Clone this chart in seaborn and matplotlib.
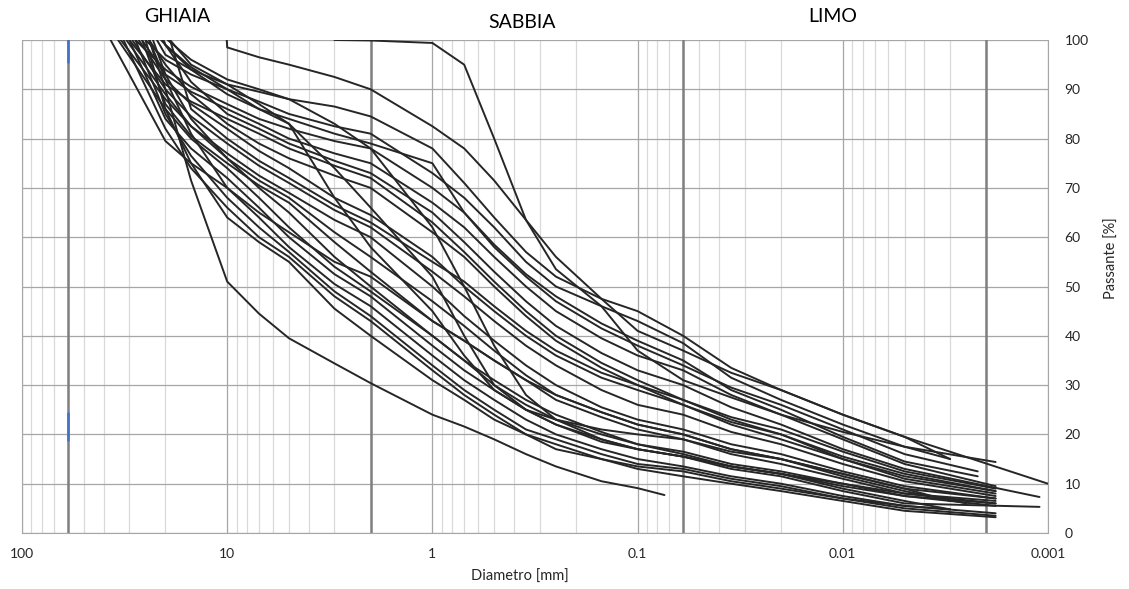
import numpy as np
import pandas as pd
import matplotlib
matplotlib.use("Agg")
import matplotlib.pyplot as plt
import seaborn as sns
from matplotlib.ticker import LogLocator, FuncFormatter, NullFormatter, MultipleLocator

n = np.nan

# sieve / hydrometer diameters shared by the curves [mm]
sieve_mm = [20, 15, 10, 7, 5, 3, 2, 1, 0.7, 0.5, 0.35, 0.25, 0.15, 0.1, 0.06, 0.035,
            0.02, 0.01, 0.005]

# diameter where each curve reaches 100 % passing
start_mm = [3.0, 10.05, 22, 25, 20.5, 28, 19.5, 26, 21, 30, 24, 20.5, 27, 19,
            29, 33, 19, 31, 37, 26, 23, 34, 30, 24, 28, 32, 25, 24]

# passing [%] at sieve_mm, one row per sample
passing = [
    [n, n, n, n, n, n, 99.9, 99.4, 95, 80, 63.5, 53.5, 46, 37, 31, 27.5, 24, 20.5, 17.5],
    [n, n, 98.5, 96.5, 95, 92.5, 90, 82.5, 78, 71.5, 63.5, 56, 47.5, 41, 37, 32.5, 29, 24, 19.5],
    [97, 94, 91, 89.5, 88, 86.5, 84.5, 78, 71, 64, 57, 52, 47.5, 45, 40, 33.5, 29, 24, 19.5],
    [96, 93, 90, 87.5, 85, 82.5, 81, 73, 68, 62, 55, 50, 46, 43, 38.5, 31.5, 27, 22, 17.5],
    [99, 94, 89, 86, 84, 81, 79, 75, 65, 58.5, 52.5, 48, 42.5, 39, 35, 29, 25, 19.5, 14.5],
    [94, 90.5, 87, 84, 82, 79.5, 78, 70, 65, 58, 52, 47, 41.5, 38, 34, 29.5, 26, 21, 16],
    [n, 96, 92, 90, 88, 83, 78, 62, 50, 38, 28, 23, 19, 17, 15.5, 13.5, 12, 10, 8],
    [93, 89.5, 86, 83, 80, 77, 75, 67, 62, 56, 50, 45, 39.5, 36, 33, 28, 24, 19, 14],
    [99, 91.5, 85, 82, 79, 75.5, 73, 65, 59, 53, 47, 42, 36.5, 33, 30, 25.5, 22, 17, 13],
    [91, 87.5, 84, 81, 78, 74.5, 72, 63, 57, 51, 45, 40, 34.5, 31, 27, 23.5, 21, 16.5, 12.5],
    [95, 89, 83, 79, 76, 72.5, 70, 61, 56, 50, 44, 39, 33.5, 30, 26, 22.5, 20, 15.5, 12],
    [99, 94.5, 90, 86, 83, 74, 66, 52, 40, 30, 25, 22, 18.5, 17, 15.5, 13.5, 12, 9.5, 7.5],
    [92, 87, 82, 77.5, 74, 68, 64.5, 56, 50, 45, 40, 36, 31.5, 29, 26, 22, 19, 15, 11],
    [n, 86, 80, 75.5, 72, 66.5, 63, 55, 51, 46, 41, 37, 32.5, 30, 27, 23, 20, 15, 11.5],
    [90, 84.5, 79, 74.5, 71, 65.5, 62, 53, 48, 43, 38, 34, 29, 26, 24, 20.5, 18, 14, 10.5],
    [88, 82.5, 77, 72.5, 69, 63.5, 60, 50, 44, 39, 34, 30, 25.5, 23, 21, 18, 16, 12.5, 9.5],
    [n, 95, 91, 87, 83, 68, 58, 45, 36, 29, 25, 23, 21, 20, 19, 16.5, 15, 12, 9],
    [89, 82.5, 76, 71.5, 68, 61, 56, 47, 42, 37, 32, 28, 24.5, 22, 20, 17, 15, 12, 9],
    [79.5, 75, 70, 65, 61, 55, 52, 43, 39, 35, 31, 28, 24.5, 22, 20, 17, 15, 11.5, 8.5],
    [87, 80.5, 75, 70.5, 67, 59, 53, 43, 39, 35, 31, 27, 23.5, 21, 19, 16, 14, 11, 8],
    [93, 84, 76, 70, 65, 56, 50, 40, 35, 30, 26, 23, 20, 18, 16.5, 14, 12.5, 10, 7.5],
    [86, 80, 74, 68, 62, 54, 49, 40, 35, 31, 27, 24, 20.5, 18, 16, 13.5, 12, 9, 6.5],
    [84, 78, 72, 66, 60, 52.5, 48, 38, 33, 29, 25, 22, 19, 17, 15.5, 13, 11.5, 8.5, 6],
    [92, 81, 70, 64, 58, 50.5, 46, 36, 31, 27, 23, 20, 17, 15, 13.5, 11.5, 10, 7.5, 5.5],
    [85, 76.5, 68, 62, 57, 49, 44, 34, 29, 25, 21, 19, 16, 14, 13, 11, 9.5, 7, 5],
    [82, 74, 66, 60, 56, 48, 43, 33, 28, 24, 20, 18, 15, 13, 11.5, 10, 8.5, 6.5, 4.5],
    [86, 75, 64, 59, 55, 45.5, 40, 31, 27, 23, 20, 17, 15, 13.5, 12.5, 10.5, 9, 7, 5.5],
    [90, 71.5, 51, 44.5, 39.5, 34.4, 30.4, 24, 21.6, 19, 16, 13.5, 10.5, 9.1, n, n, n, n, n],
]

# last measured point of each curve
end_mm = [0.0018, 0.001, 0.003, 0.003, 0.0022, 0.0022, 0.0018, 0.0018, 0.0011, 0.0018,
          0.0018, 0.0018, 0.0018, 0.0018, 0.0018, 0.0018, 0.0018, 0.003, 0.0025, 0.0018,
          0.0018, 0.003, 0.0011, 0.0018, 0.0018, 0.0018, 0.003, 0.074]
end_pct = [14.4, 10, 15, 15, 11.5, 12.5, 6.5, 9.5, 7.3, 9,
           8.5, 6, 8, 8.5, 7.5, 7, 7, 6.5, 6, 6,
           5.5, 4.8, 5.3, 4, 3.5, 3.2, 4.8, 7.7]

# class limits [mm] and labels
limits_mm = [60, 2, 0.06, 0.002]
classes = ["GHIAIA", "SABBIA", "LIMO"]
class_x_px = [177, 522, 833]
class_y_px = [17, 22, 17]

# short blue marks on the 60 mm line
blue_pct = [[100, 95.5], [24.3, 18.9]]

rows = []
for i, p in enumerate(passing):
    rows.append((i, start_mm[i], 100.0))
    for d, v in zip(sieve_mm, p):
        if d < start_mm[i] and not np.isnan(v):
            rows.append((i, d, v))
    rows.append((i, end_mm[i], end_pct[i]))
df = pd.DataFrame(rows, columns=["campione", "diametro", "passante"])

sns.set_style("white")
plt.rcParams['font.family'] = ['Lato', 'DejaVu Sans']

W, H = 1129, 589
fig = plt.figure(figsize=(W / 100, H / 100), dpi=100)
ax = fig.add_axes([22 / W, 1 - 533 / H, (1048 - 22) / W, (533 - 40) / H])

ax.set_xscale('log')
ax.set_xlim(100, 0.001)
ax.set_ylim(0, 100)

ax.xaxis.set_major_locator(LogLocator(base=10, numticks=10))
ax.xaxis.set_minor_locator(LogLocator(base=10, subs=np.arange(2, 10), numticks=20))
ax.xaxis.set_major_formatter(FuncFormatter(lambda v, _: f"{v:g}"))
ax.xaxis.set_minor_formatter(NullFormatter())
ax.yaxis.set_major_locator(MultipleLocator(10))

ax.grid(which='major', color='#a6a6a6', lw=0.9, zorder=0)
ax.grid(which='minor', axis='x', color='#d9d9d9', lw=0.9, zorder=0)
ax.set_axisbelow(True)

for d in limits_mm:
    ax.axvline(d, color='#7f7f7f', lw=1.8, zorder=1)
for seg in blue_pct:
    ax.plot([60, 60], seg, color='#4472c4', lw=1.8, zorder=2)

sns.lineplot(data=df, x="diametro", y="passante", units="campione", estimator=None,
             color='#262626', lw=1.4, legend=False, ax=ax, zorder=3)

ax.yaxis.tick_right()
ax.tick_params(axis='y', which='both', length=0, pad=12, labelsize=10, labelcolor='#262626')
ax.tick_params(axis='x', which='major', length=5, color='#a6a6a6', pad=6, labelsize=10,
               labelcolor='#262626')
ax.tick_params(axis='x', which='minor', length=0)
for s in ['left', 'bottom', 'right']:
    ax.spines[s].set_color('#a6a6a6')
ax.spines['top'].set_visible(False)
ax.set_xlabel("")
ax.set_ylabel("")

fig.text(520 / W, 1 - 577 / H, "Diametro [mm]", ha='center', va='center', fontsize=10.5,
         color='#262626')
fig.text(1112 / W, 1 - 258 / H, "Passante [%]", ha='center', va='center', rotation=90,
         fontsize=10.5, color='#262626')
for lab, x, y in zip(classes, class_x_px, class_y_px):
    fig.text(x / W, 1 - y / H, lab, ha='center', va='center', fontsize=14, color='#000000')

fig.savefig("out.png", dpi=100)
